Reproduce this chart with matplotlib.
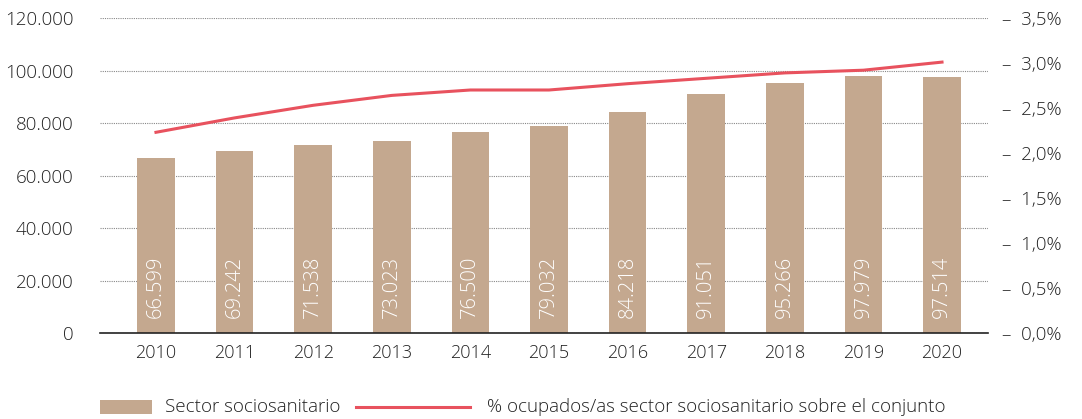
import numpy as np
import matplotlib.pyplot as plt
from matplotlib.patches import Rectangle
from matplotlib.lines import Line2D

plt.rcParams['font.family'] = ['Open Sans', 'DejaVu Sans']
plt.rcParams['font.weight'] = 'light'

years = ['2010', '2011', '2012', '2013', '2014', '2015', '2016', '2017', '2018', '2019', '2020']
ocupados = [66599, 69242, 71538, 73023, 76500, 79032, 84218, 91051, 95266, 97979, 97514]
etiquetas = ['66.599', '69.242', '71.538', '73.023', '76.500', '79.032', '84.218', '91.051', '95.266', '97.979', '97.514']
porcentaje = [2.23, 2.39, 2.53, 2.64, 2.70, 2.70, 2.77, 2.83, 2.89, 2.92, 3.01]

bar_color = '#C4A88F'
line_color = '#E8525E'
text_color = '#222222'

fig = plt.figure(figsize=(10.82, 4.19), dpi=100)
ax = fig.add_axes([100 / 1082, 1 - 333 / 419, 888 / 1082, 315 / 419])

x = np.arange(len(years))
ax.bar(x, ocupados, width=0.48, color=bar_color, zorder=2)
for xi, lab in zip(x, etiquetas):
    ax.text(xi, 5800, lab, rotation=90, ha='center', va='bottom', color='white',
            fontsize=14.5, zorder=3)

ax.set_xlim(-0.712, 10.585)
ax.set_ylim(0, 120000)
yt = np.arange(0, 120001, 20000)
ax.set_yticks(yt)
ax.set_yticklabels(['0' if v == 0 else f'{v // 1000}.000' for v in yt])
ax.set_xticks(x)
ax.set_xticklabels(years)
ax.tick_params(axis='both', length=0, colors=text_color)
ax.tick_params(axis='y', pad=19, labelsize=13.5)
ax.tick_params(axis='x', pad=8, labelsize=13)
ax.yaxis.grid(True, linestyle=(0, (1, 1)), color='#888888', linewidth=0.8, zorder=0)
for s in ['top', 'right', 'left']:
    ax.spines[s].set_visible(False)
ax.spines['bottom'].set_color('#222222')
ax.spines['bottom'].set_linewidth(1.2)
ax.spines['bottom'].set_zorder(4)

ax2 = ax.twinx()
ax2.plot(x, porcentaje, color=line_color, linewidth=2.2, zorder=5)
ax2.set_ylim(0, 3.5)
pt = np.arange(0, 3.51, 0.5)
ax2.set_yticks(pt)
ax2.set_yticklabels(['–  ' + f'{v:.1f}'.replace('.', ',') + '%' for v in pt])
ax2.tick_params(axis='y', length=0, pad=10, labelsize=13.5, colors=text_color)
for s in ax2.spines.values():
    s.set_visible(False)

# leyenda
fig.add_artist(Rectangle((100 / 1082, 1 - 414 / 419), 52 / 1082, 14 / 419,
                         transform=fig.transFigure, facecolor=bar_color, edgecolor='none'))
fig.text(165 / 1082, 1 - 407 / 419, 'Sector sociosanitario', va='center', ha='left',
         fontsize=13.5, color=text_color)
fig.add_artist(Line2D([356 / 1082, 470 / 1082], [1 - 407 / 419, 1 - 407 / 419],
                      transform=fig.transFigure, color=line_color, linewidth=2.2))
fig.text(487 / 1082, 1 - 407 / 419, '% ocupados/as sector sociosanitario sobre el conjunto',
         va='center', ha='left', fontsize=13.5, color=text_color)

fig.savefig('out.png', dpi=100)
